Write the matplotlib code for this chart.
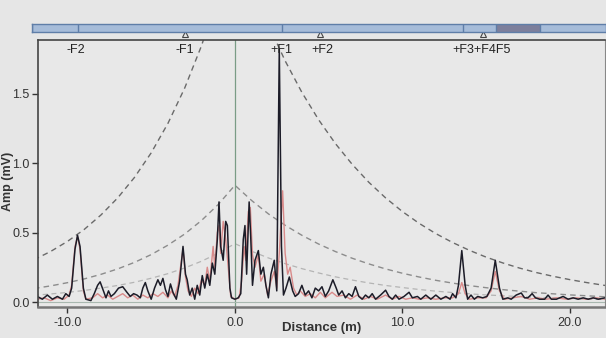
import matplotlib
matplotlib.use("Agg")
import matplotlib.pyplot as plt
import matplotlib.transforms as mtransforms

plt.rcParams['font.family'] = ['Liberation Sans', 'DejaVu Sans']

# black trace (distance m, amplitude mV)
black_x = [-11.8, -11.5, -11.2, -10.9, -10.6, -10.3, -10.1, -9.9, -9.75, -9.55, -9.4, -9.25, -9.05, -8.9,
           -8.6, -8.4, -8.2, -8.05, -7.85, -7.7, -7.55, -7.4, -7.2, -6.95, -6.7, -6.45, -6.25, -6.05,
           -5.85, -5.65, -5.5, -5.35, -5.2, -5.0, -4.8, -4.6, -4.45, -4.3, -4.15, -4.0, -3.85, -3.7,
           -3.5, -3.3, -3.1, -2.95, -2.85, -2.7, -2.55, -2.4, -2.25, -2.1, -1.95, -1.8, -1.65, -1.5,
           -1.35, -1.2, -1.05, -0.95, -0.85, -0.7, -0.55, -0.45, -0.3, -0.2, 0.0, 0.2, 0.35, 0.5,
           0.6, 0.7, 0.85, 0.95, 1.05, 1.2, 1.4, 1.55, 1.7, 1.85, 2.0, 2.15, 2.35, 2.5, 2.65, 2.78,
           2.9, 3.05, 3.25, 3.45, 3.6, 3.8, 4.0, 4.2, 4.4, 4.6, 4.8, 5.0, 5.2, 5.4, 5.6, 5.85, 6.05,
           6.2, 6.4, 6.6, 6.8, 7.0, 7.2, 7.4, 7.6, 7.8, 8.0, 8.2, 8.4, 8.7, 9.0, 9.2, 9.4, 9.6, 9.8,
           10.1, 10.4, 10.6, 10.9, 11.1, 11.4, 11.7, 12.0, 12.3, 12.6, 12.85, 13.0, 13.2, 13.35,
           13.55, 13.75, 13.9, 14.1, 14.3, 14.5, 14.8, 15.05, 15.3, 15.55, 15.8, 16.0, 16.3, 16.5,
           16.8, 17.1, 17.3, 17.5, 17.75, 17.95, 18.2, 18.5, 18.7, 18.9, 19.2, 19.6, 19.9, 20.2,
           20.5, 20.8, 21.1, 21.4, 21.7, 22.1]
black_y = [0.04, 0.02, 0.05, 0.02, 0.04, 0.02, 0.06, 0.04, 0.10, 0.38, 0.48, 0.40, 0.10, 0.02,
           0.01, 0.06, 0.12, 0.145, 0.08, 0.03, 0.08, 0.04, 0.06, 0.10, 0.11, 0.07, 0.04, 0.06,
           0.05, 0.03, 0.10, 0.14, 0.08, 0.02, 0.10, 0.16, 0.12, 0.17, 0.09, 0.04, 0.13, 0.07,
           0.02, 0.15, 0.40, 0.20, 0.16, 0.05, 0.10, 0.02, 0.12, 0.05, 0.19, 0.10, 0.20, 0.12,
           0.28, 0.20, 0.45, 0.72, 0.40, 0.30, 0.58, 0.55, 0.10, 0.03, 0.02, 0.03, 0.06, 0.45,
           0.55, 0.20, 0.72, 0.45, 0.12, 0.30, 0.37, 0.20, 0.25, 0.12, 0.03, 0.20, 0.30, 0.08, 1.82, 0.40,
           0.05, 0.10, 0.18, 0.08, 0.04, 0.06, 0.12, 0.05, 0.08, 0.03, 0.10, 0.08, 0.11, 0.04, 0.08, 0.16, 0.10,
           0.05, 0.08, 0.03, 0.06, 0.04, 0.11, 0.04, 0.02, 0.05, 0.03, 0.06, 0.02, 0.05, 0.085, 0.04, 0.02, 0.05, 0.02,
           0.04, 0.07, 0.03, 0.04, 0.02, 0.05, 0.02, 0.05, 0.02, 0.04, 0.02, 0.06, 0.03, 0.12,
           0.37, 0.12, 0.02, 0.05, 0.02, 0.04, 0.03, 0.04, 0.10, 0.30, 0.10, 0.02, 0.03, 0.02,
           0.05, 0.065, 0.03, 0.03, 0.06, 0.03, 0.02, 0.02, 0.05, 0.02, 0.02, 0.04, 0.02, 0.03,
           0.02, 0.03, 0.02, 0.03, 0.02, 0.03]

# red trace
red_x = [-11.8, -11.4, -11.0, -10.6, -10.2, -9.9, -9.75, -9.55, -9.4, -9.25, -9.05, -8.9, -8.5, -8.2,
         -7.9, -7.6, -7.3, -7.0, -6.7, -6.4, -6.1, -5.8, -5.5, -5.2, -4.9, -4.6, -4.3, -4.0, -3.8,
         -3.6, -3.4, -3.1, -2.95, -2.8, -2.6, -2.4, -2.2, -2.0, -1.8, -1.65, -1.5, -1.3, -1.2, -1.05,
         -0.95, -0.85, -0.7, -0.55, -0.4, -0.25, 0.0, 0.25, 0.4, 0.55, 0.65, 0.8, 0.92, 1.05, 1.2,
         1.4, 1.55, 1.75, 1.95, 2.15, 2.35, 2.5, 2.65, 2.85, 3.0, 3.15, 3.3, 3.5, 3.7, 3.9, 4.2, 4.5,
         4.8, 5.1, 5.4, 5.8, 6.1, 6.5, 6.9, 7.3, 7.7, 8.1, 8.5, 9.0, 9.4, 9.8, 10.2, 10.6, 11.0,
         11.5, 12.0, 12.5, 13.0, 13.35, 13.55, 13.75, 14.0, 14.5, 15.0, 15.3, 15.55, 15.8, 16.1,
         16.6, 17.1, 17.6, 18.1, 18.6, 19.2, 19.8, 20.4, 21.0, 21.6, 22.1]
red_y = [0.02, 0.03, 0.01, 0.03, 0.02, 0.05, 0.12, 0.40, 0.47, 0.38, 0.08, 0.02, 0.03, 0.06,
         0.03, 0.05, 0.02, 0.04, 0.06, 0.03, 0.05, 0.02, 0.05, 0.03, 0.06, 0.04, 0.07, 0.03, 0.08,
         0.04, 0.12, 0.38, 0.18, 0.08, 0.04, 0.10, 0.06, 0.16, 0.12, 0.25, 0.15, 0.40, 0.25, 0.50,
         0.55, 0.35, 0.58, 0.45, 0.25, 0.04, 0.02, 0.03, 0.15, 0.40, 0.30, 0.65, 0.68, 0.34, 0.25,
         0.34, 0.15, 0.20, 0.05, 0.15, 0.22, 0.10, 0.35, 0.80, 0.35, 0.20, 0.25, 0.10, 0.05, 0.08, 0.04, 0.06,
         0.03, 0.07, 0.03, 0.07, 0.04, 0.05, 0.02, 0.05, 0.02, 0.04, 0.02, 0.05, 0.02, 0.04, 0.02, 0.03, 0.02,
         0.03, 0.02, 0.03, 0.03, 0.06, 0.14, 0.06, 0.02, 0.03, 0.03, 0.08, 0.22, 0.08, 0.02,
         0.03, 0.04, 0.02, 0.03, 0.02, 0.03, 0.02, 0.03, 0.02, 0.03, 0.02]

# DAC curves
dac_x = [-12, -11, -10, -9, -8, -7, -6, -5, -4, -3, -2, -1, 0,
         1, 2, 3, 4, 5, 6, 7, 8, 9, 10, 11, 12, 13, 14, 15, 16, 17, 18, 19, 20, 21, 22, 23]
dac_outer = [0.304, 0.364, 0.436, 0.522, 0.626, 0.749, 0.896, 1.073, 1.285, 1.539, 1.842, 2.206, 2.64,
             2.295, 1.995, 1.735, 1.508, 1.311, 1.140, 0.991, 0.861, 0.749, 0.651, 0.566, 0.492,
             0.428, 0.372, 0.323, 0.281, 0.244, 0.212, 0.185, 0.161, 0.140, 0.121, 0.105]
dac_mid = [0.097, 0.116, 0.139, 0.166, 0.199, 0.238, 0.285, 0.341, 0.409, 0.489, 0.586, 0.701, 0.84,
           0.730, 0.634, 0.552, 0.480, 0.417, 0.363, 0.315, 0.274, 0.238, 0.207, 0.180, 0.156,
           0.136, 0.118, 0.103, 0.089, 0.078, 0.067, 0.059, 0.051, 0.045, 0.038, 0.033]
dac_inner = [0.048, 0.058, 0.069, 0.083, 0.100, 0.119, 0.142, 0.171, 0.204, 0.245, 0.293, 0.351, 0.42,
             0.365, 0.317, 0.276, 0.240, 0.209, 0.181, 0.158, 0.137, 0.119, 0.104, 0.090, 0.078,
             0.068, 0.059, 0.051, 0.045, 0.039, 0.034, 0.029, 0.026, 0.022, 0.019, 0.017]

feature_labels = ['-F2', '-F1', '+F1', '+F2', '+F3+F4F5']
feature_pos = [-9.5, -3.0, 2.75, 5.2, 14.7]
marker_pos = [-3.0, 5.1, 14.8]
bar_edges = [-12.12, -9.37, 2.8, 13.6, 15.6, 18.2, 22.15]
bar_colors = ['#a6bcd9', '#a6bcd9', '#a6bcd9', '#a6bcd9', '#7d7f9c', '#a6bcd9']

bg = '#e6e6e6'
fig = plt.figure(figsize=(6.06, 3.38), dpi=100, facecolor=bg)
ax = fig.add_axes([0.0627, 0.0917, 0.9353, 0.79])
ax.set_facecolor('#e8e8e8')

ax.plot(dac_x, dac_outer, color='#6a6a6a', lw=1.0, dashes=(4, 3))
ax.plot(dac_x, dac_mid, color='#8c8c8c', lw=1.0, dashes=(4, 3))
ax.plot(dac_x, dac_inner, color='#b4b4b4', lw=0.9, dashes=(4, 3))

ax.axvline(0, color='#7a9c86', lw=0.9)
ax.axhline(0, color='#a9b8b0', lw=0.8)

ax.plot(red_x, red_y, color='#d98a8a', lw=1.0)
ax.plot(black_x, black_y, color='#1c1c28', lw=1.1)

ax.set_xlim(-11.76, 22.09)
ax.set_ylim(-0.036, 1.885)
ax.set_xticks([-10, 0, 10, 20])
ax.set_xticklabels(['-10.0', '0.0', '10.0', '20.0'])
ax.set_yticks([0.0, 0.5, 1.0, 1.5])
ax.set_yticklabels(['0.0', '0.5', '1.0', '1.5'])
ax.tick_params(labelsize=9, colors='#333333', length=4, width=1)
ax.tick_params(axis='y', pad=2)
for s in ['left', 'top']:
    ax.spines[s].set_color('#444444')
    ax.spines[s].set_linewidth(1.2)
ax.spines['bottom'].set_color('#777777')
ax.spines['bottom'].set_linewidth(1.8)
ax.spines['right'].set_color('#888888')
ax.set_xlabel('Distance (m)', fontsize=9.5, fontweight='bold', color='#333333')
ax.set_ylabel('Amp (mV)', fontsize=9, fontweight='bold', color='#333333')
ax.xaxis.set_label_coords(0.5, -0.058)
ax.yaxis.set_label_coords(-0.043, 0.47)

for lab, pos in zip(feature_labels, feature_pos):
    ax.text(pos, 1.855, lab, ha='center', va='top', fontsize=9, color='#222222')

trans = mtransforms.blended_transform_factory(ax.transData, ax.transAxes)
ax.plot(marker_pos, [1.022] * len(marker_pos), linestyle='none', marker='^', ms=4,
        mfc='none', mec='#444444', mew=0.8, transform=trans, clip_on=False)

bar = fig.add_axes([0.0528, 0.9053, 0.9472, 0.0237])
for i in range(len(bar_colors)):
    bar.axvspan(bar_edges[i], bar_edges[i + 1], color=bar_colors[i], lw=0)
    bar.axvline(bar_edges[i], color='#5f7ea8', lw=1.0)
bar.set_xlim(bar_edges[0], bar_edges[-1])
bar.set_xticks([])
bar.set_yticks([])
for s in bar.spines.values():
    s.set_color('#5f7ea8')
    s.set_linewidth(1.0)

fig.savefig('out.png', dpi=100, facecolor=bg)
